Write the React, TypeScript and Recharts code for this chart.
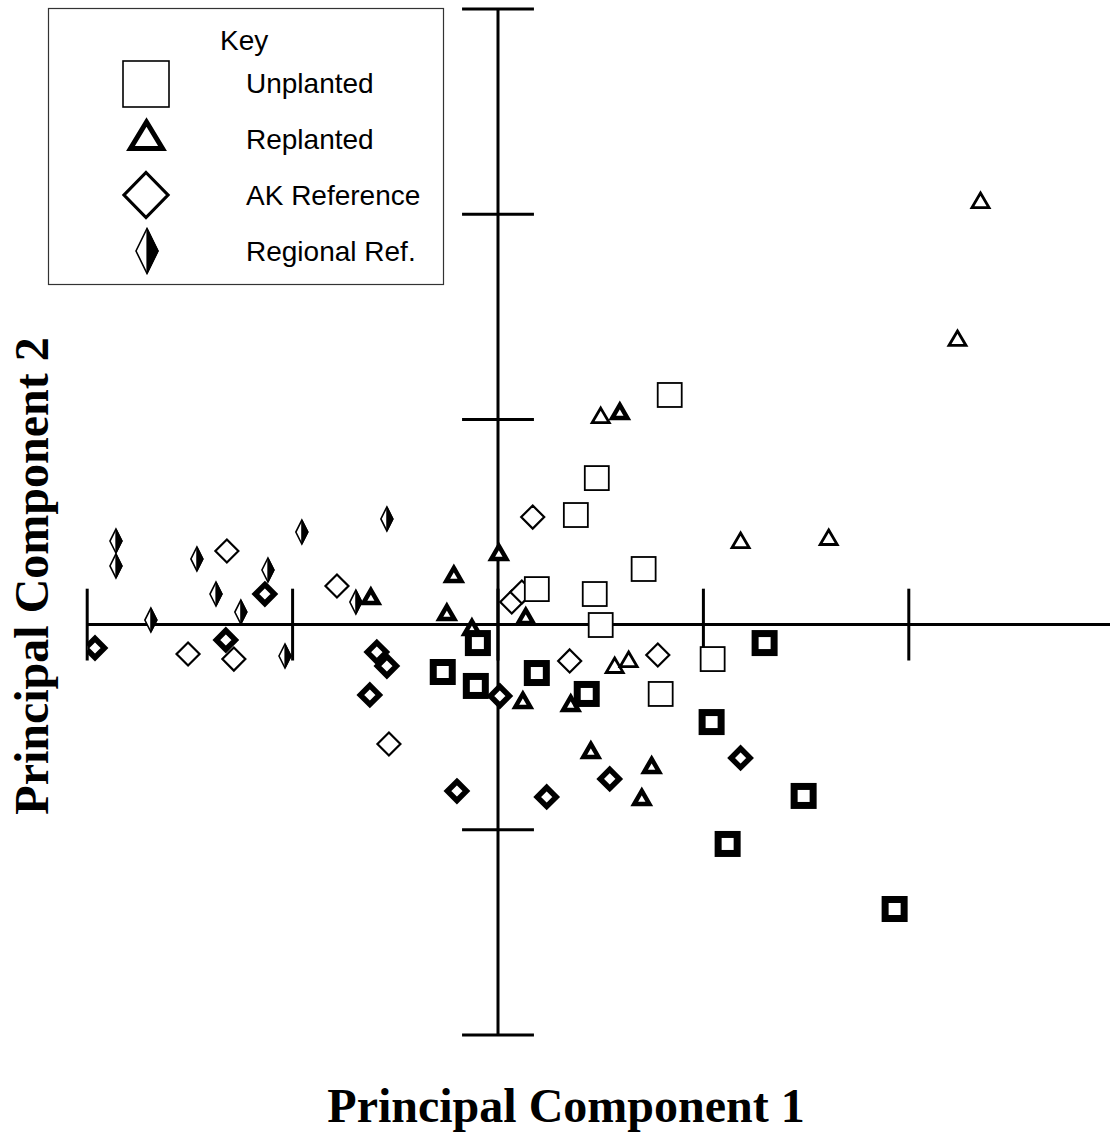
import React from 'react';
import { ScatterChart, Scatter, XAxis, YAxis, ReferenceLine } from 'recharts';

// ---- Data (PC1, PC2) ----
const regionalRef = [
  { x: -1.86, y: 0.407 }, { x: -1.86, y: 0.286 }, { x: -1.466, y: 0.32 },
  { x: -1.373, y: 0.149 }, { x: -1.69, y: 0.022 }, { x: -1.252, y: 0.061 },
  { x: -1.12, y: 0.266 }, { x: -0.955, y: 0.451 }, { x: -0.541, y: 0.515 },
  { x: -0.692, y: 0.11 }, { x: -1.037, y: -0.153 },
];
const akRefOpen = [
  { x: -1.32, y: 0.359 }, { x: -0.784, y: 0.188 }, { x: -1.509, y: -0.143 },
  { x: -1.286, y: -0.168 }, { x: -0.531, y: -0.582 }, { x: 0.169, y: 0.524 },
  { x: 0.067, y: 0.11 }, { x: 0.116, y: 0.159 }, { x: 0.349, y: -0.177 },
  { x: 0.778, y: -0.148 },
];
const akRefBold = [
  { x: -1.962, y: -0.114 }, { x: -1.135, y: 0.149 }, { x: -1.325, y: -0.075 },
  { x: -0.59, y: -0.134 }, { x: -0.541, y: -0.202 }, { x: -0.624, y: -0.343 },
  { x: 0.009, y: -0.348 }, { x: -0.2, y: -0.811 }, { x: 0.237, y: -0.84 },
  { x: 0.544, y: -0.752 }, { x: 1.181, y: -0.65 },
];
const replantedBold = [
  { x: 0.593, y: 1.041 }, { x: 0.004, y: 0.354 }, { x: -0.215, y: 0.247 },
  { x: -0.249, y: 0.061 }, { x: 0.135, y: 0.042 }, { x: 0.121, y: -0.367 },
  { x: 0.354, y: -0.382 }, { x: 0.452, y: -0.611 }, { x: 0.748, y: -0.684 },
  { x: 0.7, y: -0.84 }, { x: -0.619, y: 0.139 }, { x: -0.127, y: -0.012 },
];
const replantedThin = [
  { x: 0.5, y: 1.021 }, { x: 0.568, y: -0.197 }, { x: 0.636, y: -0.168 },
  { x: 2.349, y: 2.069 }, { x: 2.237, y: 1.397 }, { x: 1.181, y: 0.412 },
  { x: 1.61, y: 0.427 },
];
const unplantedOpen = [
  { x: 0.836, y: 1.119 }, { x: 0.481, y: 0.714 }, { x: 0.379, y: 0.534 },
  { x: 0.709, y: 0.271 }, { x: 0.189, y: 0.173 }, { x: 0.471, y: 0.149 },
  { x: 0.5, y: -0.002 }, { x: 1.045, y: -0.168 }, { x: 0.792, y: -0.338 },
];
const unplantedBold = [
  { x: -0.098, y: -0.09 }, { x: -0.269, y: -0.231 }, { x: -0.108, y: -0.299 },
  { x: 0.189, y: -0.236 }, { x: 0.432, y: -0.338 }, { x: 1.298, y: -0.09 },
  { x: 1.04, y: -0.475 }, { x: 1.488, y: -0.835 }, { x: 1.118, y: -1.069 },
  { x: 1.931, y: -1.386 },
];

const xTicks = [-2, -1, 0, 1, 2];
const yTicks = [-2, -1, 1, 2, 3];
const legendItems = ['Unplanted', 'Replanted', 'AK Reference', 'Regional Ref.'];

const TICK_HALF = 0.175;

// ---- Marker shapes ----
const OpenSquare = (p: any) => (
  <rect x={p.cx - 12} y={p.cy - 12} width={24} height={24} fill="#fff" stroke="#000" strokeWidth={1.8} />
);
const BoldSquare = (p: any) => (
  <rect x={p.cx - 9.5} y={p.cy - 9.5} width={19} height={19} fill="#fff" stroke="#000" strokeWidth={7} />
);
const OpenDiamond = (p: any) => (
  <polygon
    points={`${p.cx},${p.cy - 11.5} ${p.cx + 11.5},${p.cy} ${p.cx},${p.cy + 11.5} ${p.cx - 11.5},${p.cy}`}
    fill="#fff" stroke="#000" strokeWidth={2.2}
  />
);
const BoldDiamond = (p: any) => (
  <polygon
    points={`${p.cx},${p.cy - 9.5} ${p.cx + 9.5},${p.cy} ${p.cx},${p.cy + 9.5} ${p.cx - 9.5},${p.cy}`}
    fill="#fff" stroke="#000" strokeWidth={5.5}
  />
);
const HalfDiamond = (p: any) => {
  const { cx, cy } = p;
  const w = 6, h = 12;
  return (
    <g>
      <polygon points={`${cx},${cy - h} ${cx + w},${cy} ${cx},${cy + h} ${cx - w},${cy}`} fill="#fff" stroke="#000" strokeWidth={1.6} />
      <polygon points={`${cx},${cy - h} ${cx + w},${cy} ${cx},${cy + h}`} fill="#000" stroke="#000" strokeWidth={1.2} />
    </g>
  );
};
const BoldTriangle = (p: any) => (
  <polygon
    points={`${p.cx},${p.cy - 6} ${p.cx + 7.5},${p.cy + 7} ${p.cx - 7.5},${p.cy + 7}`}
    fill="#fff" stroke="#000" strokeWidth={4.5}
  />
);
const ThinTriangle = (p: any) => (
  <polygon
    points={`${p.cx},${p.cy - 7} ${p.cx + 8.5},${p.cy + 7.5} ${p.cx - 8.5},${p.cy + 7.5}`}
    fill="#fff" stroke="#000" strokeWidth={2.8}
  />
);

const KeyBox = () => (
  <svg width={398} height={279} style={{ position: 'absolute', left: 47, top: 7 }}>
    <rect x={1.5} y={1.5} width={395} height={276} fill="#fff" stroke="#333" strokeWidth={1.2} />
    <g fontFamily="Arial, 'Liberation Sans', sans-serif" fontSize={28} fill="#000">
      <text x={173} y={43}>Key</text>
      {legendItems.map((t, i) => (
        <text key={t} x={199} y={86 + i * 56}>{t}</text>
      ))}
    </g>
    {/* square */}
    <rect x={76} y={54} width={46} height={46} fill="#fff" stroke="#000" strokeWidth={1.6} />
    {/* triangle */}
    <polygon points="99.5,115 115.5,141.5 83.5,141.5" fill="#fff" stroke="#000" strokeWidth={5} />
    {/* diamond */}
    <polygon points="99,165.5 121,188 99,210.5 77,188" fill="#fff" stroke="#000" strokeWidth={3.2} />
    {/* half diamond */}
    <polygon points="100,221.5 111,244 100,266.5 89,244" fill="#fff" stroke="#000" strokeWidth={1.6} />
    <polygon points="100,221.5 111,244 100,266.5" fill="#000" stroke="#000" strokeWidth={1.2} />
  </svg>
);

export default function App() {
  return (
    <div style={{ position: 'absolute', left: 0, top: 0, width: 1110, height: 1134, overflow: 'hidden', background: '#fff' }}>
      <ScatterChart width={1116} height={1134} margin={{ top: 9, right: 1.8, bottom: 99, left: 87.2 }}>
        <XAxis type="number" dataKey="x" domain={[-2, 3]} allowDataOverflow ticks={[-2, -1, 0, 1, 2, 3]} hide />
        <YAxis type="number" dataKey="y" domain={[-2, 3]} allowDataOverflow ticks={[-2, -1, 0, 1, 2, 3]} hide />
        <ReferenceLine segment={[{ x: -2, y: 0 }, { x: 3, y: 0 }]} stroke="#000" strokeWidth={3} ifOverflow="visible" />
        <ReferenceLine segment={[{ x: 0, y: -2 }, { x: 0, y: 3 }]} stroke="#000" strokeWidth={3} ifOverflow="visible" />
        {xTicks.map((t) => (
          <ReferenceLine key={'xt' + t} segment={[{ x: t, y: -TICK_HALF }, { x: t, y: TICK_HALF }]} stroke="#000" strokeWidth={3} ifOverflow="visible" />
        ))}
        {yTicks.map((t) => (
          <ReferenceLine key={'yt' + t} segment={[{ x: -TICK_HALF, y: t }, { x: TICK_HALF, y: t }]} stroke="#000" strokeWidth={3} ifOverflow="visible" />
        ))}
        <Scatter name="Regional Ref." data={regionalRef} shape={HalfDiamond} isAnimationActive={false} />
        <Scatter name="AK Reference" data={akRefOpen} shape={OpenDiamond} isAnimationActive={false} />
        <Scatter name="AK Reference (bold)" data={akRefBold} shape={BoldDiamond} isAnimationActive={false} />
        <Scatter name="Replanted" data={replantedThin} shape={ThinTriangle} isAnimationActive={false} />
        <Scatter name="Replanted (bold)" data={replantedBold} shape={BoldTriangle} isAnimationActive={false} />
        <Scatter name="Unplanted" data={unplantedOpen} shape={OpenSquare} isAnimationActive={false} />
        <Scatter name="Unplanted (bold)" data={unplantedBold} shape={BoldSquare} isAnimationActive={false} />
      </ScatterChart>
      <KeyBox />
      <svg width={1110} height={1134} style={{ position: 'absolute', left: 0, top: 0, pointerEvents: 'none' }}>
        <g fontFamily="'Times New Roman', 'Liberation Serif', serif" fontWeight="bold" fontSize={48} fill="#000">
          <text x={566} y={1122} textAnchor="middle">Principal Component 1</text>
          <text x={48} y={576} textAnchor="middle" transform="rotate(-90 48 576)">Principal Component 2</text>
        </g>
      </svg>
    </div>
  );
}
